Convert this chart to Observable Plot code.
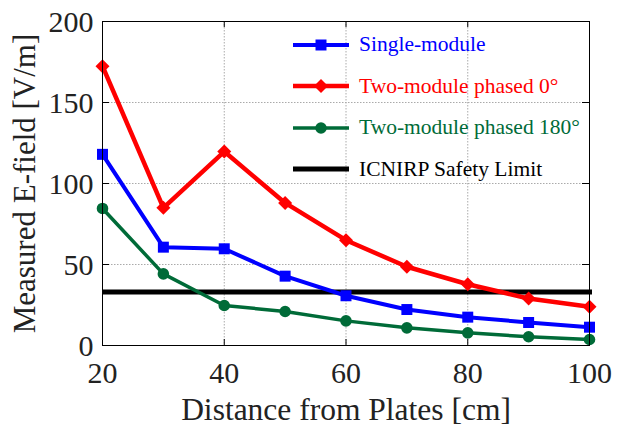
<!DOCTYPE html>
<html><head>
<meta charset="utf-8">
<script src="https://cdn.jsdelivr.net/npm/d3@7"></script>
<script src="https://cdn.jsdelivr.net/npm/@observablehq/plot@0.6"></script>
<style>
body{margin:0;background:#fff}
#wrap{position:relative;width:617px;height:426px;font-family:"Liberation Serif","Times New Roman",serif}
#legend{position:absolute;left:293px;top:24px}
.row{display:flex;align-items:center;height:41.5px;font-size:21.5px;white-space:nowrap}
.row svg{margin-right:10px}
</style>
</head><body><div id="wrap"><div id="legend"></div></div>
<script>
const distances = [20, 30, 40, 50, 60, 70, 80, 90, 100];
const singleModule = [118, 60.7, 59.7, 42.8, 30.7, 22.2, 17.5, 14.2, 11.3];
const phased0 = [172.4, 85, 119.7, 88, 65, 48.6, 37.8, 29, 23.9];
const phased180 = [84.6, 44.2, 24.7, 21, 15.2, 10.9, 7.8, 5.4, 3.7];
const safetyLimit = 33;
const xTicks = [20, 40, 60, 80, 100];
const yTicks = [0, 50, 100, 150, 200];
const seriesNames = ["Single-module", "Two-module phased 0°", "Two-module phased 180°", "ICNIRP Safety Limit"];
const colors = ["#0000ff", "#ff0000", "#006b38", "#000000"];
const symbols = ["square", "diamond2", "circle", null];

const series = [singleModule, phased0, phased180].map((vals, i) =>
  distances.map((d, j) => ({x: d, y: vals[j], s: seriesNames[i]})));

const font = '"Liberation Serif","Times New Roman",serif';
const lineW = [4, 4.5, 3.5];
const dotR = [6.2, 6.3, 5.8];

const marks = [
  Plot.gridX(xTicks.slice(1, -1), {stroke: "#aaa", strokeOpacity: 1, strokeDasharray: "1.5,1.5", strokeWidth: 1}),
  Plot.gridY(yTicks.slice(1, -1), {stroke: "#aaa", strokeOpacity: 1, strokeDasharray: "1.5,1.5", strokeWidth: 1}),
  Plot.tickX(xTicks, {insetTop: 318, stroke: "#000"}),
  Plot.tickX(xTicks, {insetBottom: 318, stroke: "#000"}),
  Plot.tickY(yTicks, {insetRight: 480, stroke: "#000"}),
  Plot.tickY(yTicks, {insetLeft: 480, stroke: "#000"}),
  Plot.ruleY([safetyLimit], {stroke: colors[3], strokeWidth: 5, insetRight: -3}),
];
series.forEach((data, i) => {
  marks.push(Plot.line(data, {x: "x", y: "y", stroke: colors[i], strokeWidth: lineW[i]}));
  marks.push(Plot.dot(data, {x: "x", y: "y", fill: colors[i], stroke: "none", symbol: () => symbols[i], r: dotR[i]}));
});
marks.push(
  Plot.frame({stroke: "#000", strokeWidth: 1}),
  Plot.text(xTicks, {x: d => d, frameAnchor: "bottom", lineAnchor: "top", textAnchor: "middle", dy: 16, fontSize: 30, fill: "#222", fontFamily: font}),
  Plot.text(yTicks, {y: d => d, frameAnchor: "left", lineAnchor: "middle", textAnchor: "end", dx: -9, dy: 1, fontSize: 30, fill: "#222", fontFamily: font}),
  Plot.text(["Distance from Plates [cm]"], {frameAnchor: "bottom", lineAnchor: "middle", textAnchor: "middle", dy: 64, fontSize: 31.5, fill: "#222", fontFamily: font}),
  Plot.text(["Measured E-field [V/m]"], {frameAnchor: "left", textAnchor: "middle", lineAnchor: "middle", dx: -77, rotate: -90, fontSize: 31, fill: "#222", fontFamily: font})
);

const chart = Plot.plot({
  width: 617, height: 426,
  marginLeft: 102, marginRight: 28, marginTop: 21, marginBottom: 81,
  style: {fontFamily: font, background: "#fff", overflow: "visible"},
  x: {domain: [20, 100], type: "linear", axis: null},
  y: {domain: [0, 200], type: "linear", axis: null},
  marks
});
const wrap = document.getElementById("wrap");
wrap.insertBefore(chart, wrap.firstChild);

// legend
const legend = d3.select("#legend");
seriesNames.forEach((name, i) => {
  const row = legend.append("div").attr("class", "row").style("color", colors[i]);
  const svg = row.append("svg").attr("width", 56).attr("height", 20);
  svg.append("line").attr("x1", 0).attr("x2", 56).attr("y1", 10).attr("y2", 10)
    .attr("stroke", colors[i]).attr("stroke-width", i === 3 ? 5 : lineW[i]);
  if (symbols[i]) {
    const sym = {square: d3.symbolSquare, diamond2: d3.symbolDiamond2, circle: d3.symbolCircle}[symbols[i]];
    svg.append("path").attr("transform", "translate(28,10)")
      .attr("d", d3.symbol(sym, Math.PI * dotR[i] * dotR[i])()).attr("fill", colors[i]);
  }
  row.append("span").text(name);
});
</script>
</body></html>
